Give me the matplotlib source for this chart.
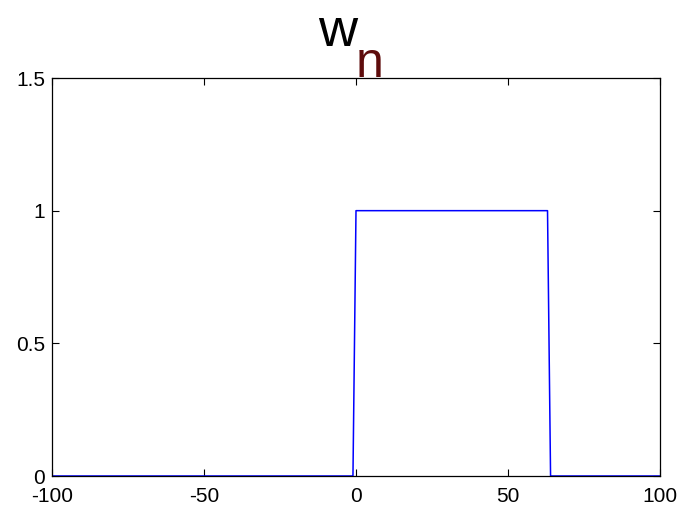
import numpy as np
import matplotlib
matplotlib.use('Agg')
import matplotlib.pyplot as plt

plt.rcParams['axes.unicode_minus'] = False

# rectangular window w[n], corner points
n_pts = [-100, -1, 0, 63, 64, 100]
w_pts = [0, 0, 1, 1, 0, 0]

xticks = [-100, -50, 0, 50, 100]
yticks = [0, 0.5, 1, 1.5]
ytick_labels = ['0', '0.5', '1', '1.5']

fam = ['Liberation Sans', 'DejaVu Sans']

fig = plt.figure(figsize=(6.83, 5.11), dpi=100)
ax = fig.add_axes([52/683, 1 - 476/511, 608/683, 398/511])
ax.plot(n_pts, w_pts, color='#0000ff', lw=1.1)
ax.set_xlim(-100, 100)
ax.set_ylim(0, 1.5)
ax.set_xticks(xticks)
ax.set_yticks(yticks)
ax.set_yticklabels(ytick_labels)
ax.tick_params(direction='in', length=5, width=0.8, top=True, right=True,
               labelsize=15)
ax.tick_params(axis='x', pad=8)
ax.tick_params(axis='y', pad=5)
for lab in ax.get_xticklabels() + ax.get_yticklabels():
    lab.set_family(fam)
for s in ax.spines.values():
    s.set_linewidth(0.9)

# title: w with subscript n
fig.text(338/683, 1 - 46/511, 'w', fontsize=39, family=fam, ha='center',
         va='baseline', color='black')
fig.text(370/683, 1 - 77/511, 'n', fontsize=36, family=fam, ha='center',
         va='baseline', color='#5e0c0c')

fig.savefig('out.png', dpi=100)
